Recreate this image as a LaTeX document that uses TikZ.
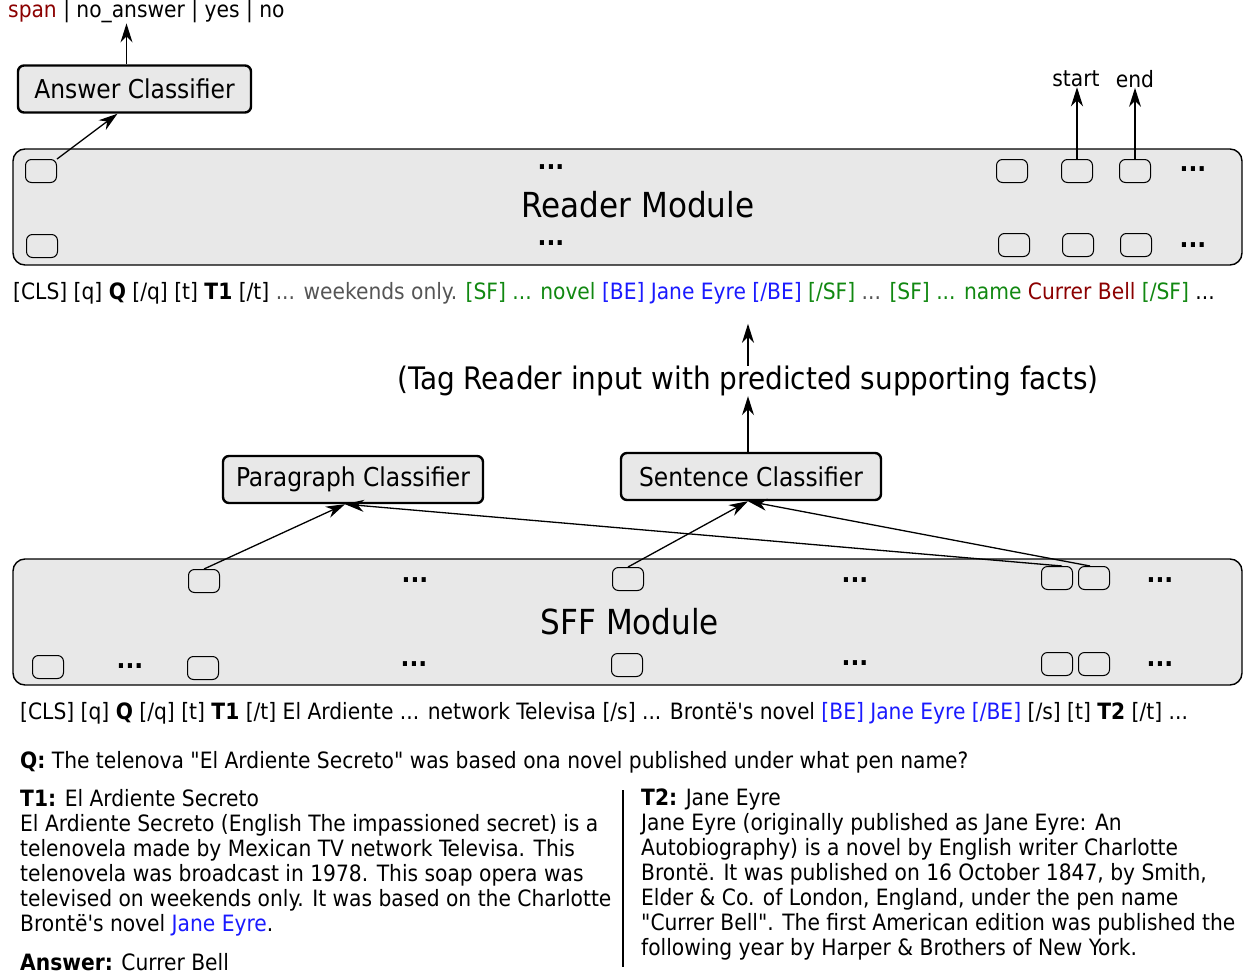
\documentclass[tikz,border=0pt]{standalone}
\usepackage{fontspec}
\setmainfont{DejaVu Sans Condensed}
\usepackage{tikz}
\usetikzlibrary{arrows.meta, positioning, calc}
\usepackage{xcolor}
\definecolor{boxgray}{HTML}{E8E8E8}
\definecolor{ansred}{HTML}{8B0000}
\definecolor{sfgreen}{HTML}{118811}
\definecolor{beblue}{HTML}{1A1AFF}
\definecolor{tokgray}{HTML}{555555}

\begin{document}
\begin{tikzpicture}[
    x=1pt, y=-1pt,
    every node/.style={font=\fontsize{22.5}{25}\selectfont, inner sep=0pt},
    module/.style={rectangle, draw, rounded corners=12pt, line width=1.4pt, fill=boxgray, minimum width=1229pt, minimum height=#1},
    module/.default=116pt,
    clf/.style={rectangle, draw, rounded corners=6pt, line width=2.4pt, fill=boxgray, minimum height=47pt, font=\fontsize{26}{30}\selectfont},
    cell/.style={rectangle, draw, rounded corners=6pt, line width=1pt, fill=boxgray, minimum width=31pt, minimum height=23pt},
    dots/.style={font=\fontsize{26}{20}\bfseries},
    title/.style={font=\fontsize{34.5}{38}\selectfont},
    txt/.style={anchor=west, align=left},
    arrow/.style={-{Stealth[length=19pt, width=12pt, inset=6pt]}, line width=1.3pt},
]
\useasboundingbox (0,0) rectangle (1248,977);

% Reader
\node[module] (reader) at (627.5,207) {};
\node[title] (readerlbl) at (638,205) {Reader Module};
\node[cell] (r1) at (41,171) {};
\node[cell] (r2) at (1012,171) {};
\node[cell] (r3) at (1077,171) {};
\node[cell] (r4) at (1135,171) {};
\node[cell] (rb1) at (42,246) {};
\node[cell] (rb2) at (1014,245) {};
\node[cell] (rb3) at (1078,245) {};
\node[cell] (rb4) at (1136,245) {};
\node[dots] (rd1) at (551,167) {...};
\node[dots] (rd2) at (1193,169) {...};
\node[dots] (rd3) at (551,243) {...};
\node[dots] (rd4) at (1193,245) {...};

% Answer classifier
\node[clf, minimum width=233pt] (ansc) at (134.5,89) {Answer Classifier};
\node[txt] (outs) at (8,12) {\textcolor{ansred}{span} | no\_answer | yes | no};
\node (start) at (1076,79) {start};
\node (end) at (1135,79) {end};

% Reader input
\node[txt] (rtok) at (13,293) {[CLS] [q] \textbf{Q} [/q] [t] \textbf{T1} [/t] \textcolor{tokgray}{... weekends only.} \textcolor{sfgreen}{[SF] ... novel} \textcolor{beblue}{[BE] Jane Eyre [/BE]} \textcolor{sfgreen}{[/SF]} \textcolor{tokgray}{...} \textcolor{sfgreen}{[SF] ... name} \textcolor{ansred}{Currer Bell} \textcolor{sfgreen}{[/SF]} ...};
\node[font=\fontsize{31}{34}\selectfont] (tag) at (748,381) {(Tag Reader input with predicted supporting facts)};

% Classifiers
\node[clf, minimum width=260pt] (sentc) at (751,476.5) {Sentence Classifier};
\node[clf, minimum width=260pt] (parac) at (353,479.5) {Paragraph Classifier};

% SFF
\node[module=126pt] (sff) at (627.5,622) {};
\node[title] (sfflbl) at (630,622) {SFF Module};
\node[cell] (s1) at (204,581) {};
\node[cell] (s2) at (628,579) {};
\node[cell] (s3) at (1057,578) {};
\node[cell] (s4) at (1094,578) {};
\node[cell] (sb1) at (48,667) {};
\node[cell] (sb2) at (203,668) {};
\node[cell] (sb3) at (627,665) {};
\node[cell] (sb4) at (1057,664) {};
\node[cell] (sb5) at (1094,664) {};
\node[dots] (sd1) at (415,580) {...};
\node[dots] (sd2) at (855,580) {...};
\node[dots] (sd3) at (1160,580) {...};
\node[dots] (sd4) at (130,666) {...};
\node[dots] (sd5) at (414,664) {...};
\node[dots] (sd6) at (855,663) {...};
\node[dots] (sd7) at (1160,664) {...};

% SFF input and example
\node[txt] (stok) at (20,713) {[CLS] [q] \textbf{Q} [/q] [t] \textbf{T1} [/t] El Ardiente ... network Televisa [/s] ... Brontë\textquotesingle s novel \textcolor{beblue}{[BE] Jane Eyre [/BE]} [/s] [t] \textbf{T2} [/t] ...};
\node[txt] (q) at (20,762) {\textbf{Q:} The telenova \textquotedbl El Ardiente Secreto\textquotedbl{} was based ona novel published under what pen name?};
\node[txt, anchor=north west] (t1) at (20,789) {\textbf{T1:} El Ardiente Secreto\\
El Ardiente Secreto (English The impassioned secret) is a\\
telenovela made by Mexican TV network Televisa. This\\
telenovela was broadcast in 1978. This soap opera was\\
televised on weekends only. It was based on the Charlotte\\
Brontë\textquotesingle s novel \textcolor{beblue}{Jane Eyre}.};
\node[txt] (ans) at (20,962) {\textbf{Answer:} Currer Bell};
\node[txt, anchor=north west] (t2) at (641,789) {\textbf{T2:} Jane Eyre\\
Jane Eyre (originally published as Jane Eyre: An\\
Autobiography) is a novel by English writer Charlotte\\
Brontë. It was published on 16 October 1847, by Smith,\\
Elder \& Co. of London, England, under the pen name\\
\textquotedbl Currer Bell\textquotedbl. The first American edition was published the\\
following year by Harper \& Brothers of New York.};
\coordinate (septop) at (623,790);
\coordinate (sepbot) at (623,967);
\draw[line width=1.2pt] (septop) -- (sepbot);

% Arrows
\draw[arrow] ([xshift=-8pt]ansc.north) -- ([xshift=-8pt]ansc.north |- outs.south);
\draw[arrow] (r1.north east) -- ([xshift=-17pt]ansc.south);
\draw[arrow] (r3.north) -- (r3.north |- start.south);
\draw[arrow] (r4.north) -- (r4.north |- end.south);
\draw[arrow] (tag.north) -- ++(0,-42);
\draw[arrow] ([xshift=-3pt]sentc.north) -- (tag.south);
\draw[arrow] (s1.north) -- ([xshift=-8pt]parac.south);
\draw[arrow] ([xshift=5pt]s3.north) -- ([xshift=-8pt]parac.south);
\draw[arrow] (s2.north) -- ([xshift=-3pt]sentc.south);
\draw[arrow] ([xshift=-4pt]s4.north) -- ([xshift=-3pt]sentc.south);

\end{tikzpicture}
\end{document}
